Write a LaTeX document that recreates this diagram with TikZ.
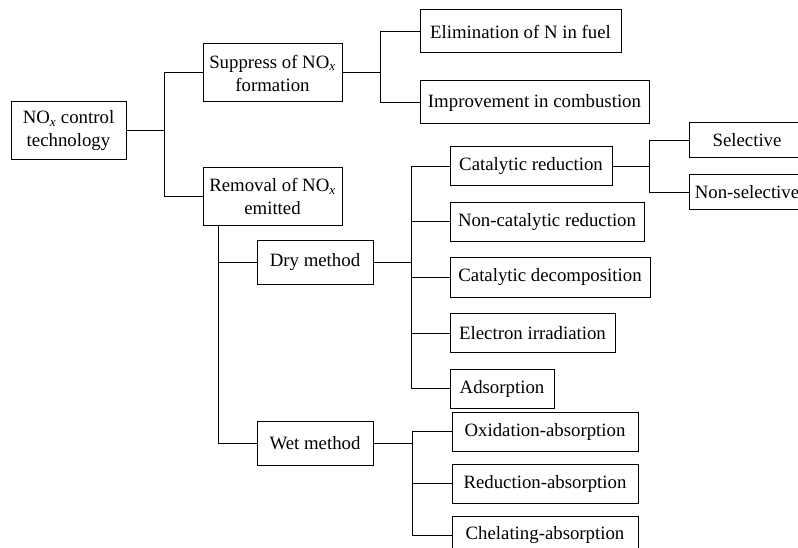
\documentclass[tikz,border=0pt]{standalone}
\usepackage{fontspec}
\setmainfont{Liberation Serif}
\usetikzlibrary{positioning}
\newcommand{\NOx}{NO\textsubscript{\itshape x}}

\begin{document}
\begin{tikzpicture}[
    node distance=15.5pt and 76pt,
    box/.style={draw, line width=1pt, inner xsep=3pt, inner ysep=0pt,
                minimum height=39pt, align=center,
                font=\fontsize{18.8}{23}\selectfont},
    tallbox/.style={box, minimum height=58pt},
    link/.style={line width=1pt}
  ]
    \useasboundingbox (0,0) rectangle (798pt,-548pt);
    % first two levels
    \node[tallbox, minimum width=115pt] (root) at (68.5pt,-131pt) {\NOx{} control\\technology};
    \node[tallbox, minimum width=139pt, right=76pt of root, yshift=58pt]    (supp) {Suppress of \NOx\\formation};
    \node[tallbox, minimum width=139pt, right=76pt of root, yshift=-65.5pt] (remv) {Removal of \NOx\\emitted};
    \node[box, minimum width=201pt, minimum height=43pt, right=77pt of supp, yshift=41.5pt]  (elim) {Elimination of N in fuel};
    \node[box, minimum width=229pt, minimum height=43pt, right=77pt of supp, yshift=-29.5pt] (impr) {Improvement in combustion};
    % dry and wet
    \node[box, minimum width=116pt, minimum height=44pt, below right=14pt and 54pt of remv.south west] (dry) {Dry method};
    \node[box, minimum width=116pt, minimum height=44pt, below=136pt of dry] (wet) {Wet method};
    % dry methods
    \node[box, minimum width=162pt, right=76pt of dry, yshift=96pt] (catred) {Catalytic reduction};
    \node[box, minimum width=194pt, below=of catred.south west, anchor=north west] (noncat) {Non-catalytic reduction};
    \node[box, minimum width=200pt, below=of noncat.south west, anchor=north west] (catdec) {Catalytic decomposition};
    \node[box, minimum width=165pt, below=of catdec.south west, anchor=north west] (elec)   {Electron irradiation};
    \node[box, minimum width=104pt, below=of elec.south west, anchor=north west]   (adso)   {Adsorption};
    \node[box, minimum width=116pt, minimum height=35pt, right=76pt of catred, yshift=26pt] (sel) {Selective};
    \node[box, minimum width=116pt, minimum height=35pt, below=16pt of sel] (nonsel) {Non-selective};
    % wet methods
    \node[box, minimum width=186pt, right=78pt of wet, yshift=12pt] (oxab) {Oxidation-absorption};
    \node[box, minimum width=186pt, below=12pt of oxab] (redab) {Reduction-absorption};
    \node[box, minimum width=186pt, below=12pt of redab] (chab) {Chelating-absorption};
    % connectors
    \draw[link] (root.east) -- ++(38pt,0) |- (supp.west);
    \draw[link] (root.east) -- ++(38pt,0) |- (remv.west);
    \draw[link] (supp.east) -- ++(38pt,0) |- (elim.west);
    \draw[link] (supp.east) -- ++(38pt,0) |- (impr.west);
    \draw[link] ([xshift=16pt]remv.south west) |- (dry.west);
    \draw[link] ([xshift=16pt]remv.south west) |- (wet.west);
    \foreach \m in {catred,noncat,catdec,elec,adso}
      \draw[link] (dry.east) -- ++(38pt,0) |- (\m.west);
    \foreach \m in {sel,nonsel}
      \draw[link] (catred.east) -- ++(37pt,0) |- (\m.west);
    \foreach \m in {oxab,redab,chab}
      \draw[link] (wet.east) -- ++(39pt,0) |- (\m.west);
\end{tikzpicture}
\end{document}
